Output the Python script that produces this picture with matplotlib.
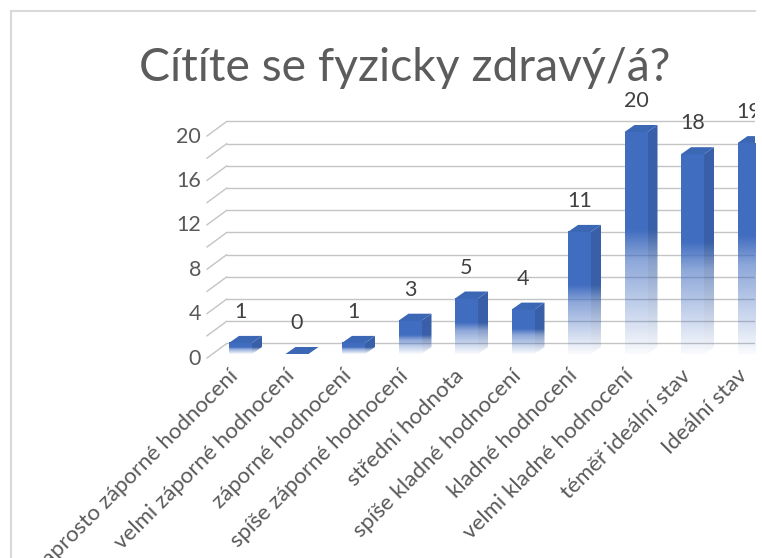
import matplotlib
matplotlib.use("Agg")
import matplotlib.pyplot as plt
import numpy as np
from matplotlib.patches import Polygon

plt.rcParams['font.family'] = ['Lato', 'DejaVu Sans']

categories = ["naprosto záporné hodnocení", "velmi záporné hodnocení", "záporné hodnocení",
              "spíše záporné hodnocení", "střední hodnota", "spíše kladné hodnocení",
              "kladné hodnocení", "velmi kladné hodnocení", "téměř ideální stav", "Ideální stav"]
values = [1, 0, 1, 3, 5, 4, 11, 20, 18, 19]
grid_values = list(range(0, 21, 2))
tick_values = [0, 4, 8, 12, 16, 20]
title = "Cítíte se fyzicky zdravý/á?"

# pixel scale of the picture: one category and one unit
px_x = 56.5
px_y = 11.1
bar_w = 23 / px_x
depth_x = 10 / px_x
depth_y = 7 / px_y

front_col = (0.255, 0.431, 0.753)
side_col = (0.220, 0.373, 0.655)
top_col = (0.231, 0.404, 0.710)


def fade_image(top_value, bar_value, col):
    # solid above the middle of the bar, fading to white below it
    ys = np.linspace(top_value, 0, 200)
    frac = ys / bar_value
    alpha = np.interp(frac, [0, 0.42, 0.56, 1], [0.03, 0.6, 1, 1])
    img = np.ones((200, 1, 4))
    img[:, 0, 0] = col[0]
    img[:, 0, 1] = col[1]
    img[:, 0, 2] = col[2]
    img[:, 0, 3] = alpha
    return img


fig = plt.figure(figsize=(7.62, 5.58), dpi=100)
ax = fig.add_axes([11 / 762, 0, 744 / 762, 547 / 558])
xlim = ((11 - 240.5) / px_x, (755 - 240.5) / px_x)
ylim = ((354 - 558) / px_y, (354 - 11) / px_y)

for spine in ['right', 'bottom']:
    ax.spines[spine].set_visible(False)
for spine in ['left', 'top']:
    ax.spines[spine].set_color('#d9d9d9')
    ax.spines[spine].set_linewidth(1.5)
ax.set_xticks([])
ax.set_yticks([])

# back wall and the slanted floor lines
for v in grid_values:
    back_y = v + 0.946
    front_y = v - 0.36
    back_x = (226.7 - 240.5) / px_x
    front_x = (207 - 240.5) / px_x
    ax.plot([back_x, xlim[1]], [back_y, back_y], color='#c4c4c4', lw=1.0, zorder=1)
    ax.plot([front_x, back_x], [front_y, back_y], color='#c4c4c4', lw=1.0, zorder=1)

for v in tick_values:
    ax.text((201 - 240.5) / px_x, v - 0.42, str(v), ha='right', va='center',
            fontsize=15.5, color='#595959')

for i, v in enumerate(values):
    left = i - bar_w / 2
    right = i + bar_w / 2
    if v > 0:
        im = ax.imshow(fade_image(v, v, front_col), extent=(left, right, 0, v),
                       aspect='auto', zorder=3, interpolation='bilinear')
        side = Polygon([(right, 0), (right + depth_x, depth_y), (right + depth_x, v + depth_y),
                        (right, v)], closed=True, transform=ax.transData)
        im2 = ax.imshow(fade_image(v + depth_y, v, side_col),
                        extent=(right, right + depth_x, 0, v + depth_y),
                        aspect='auto', zorder=3, interpolation='bilinear')
        im2.set_clip_path(side)
    top = Polygon([(left, v), (right, v), (right + depth_x, v + depth_y), (left + depth_x, v + depth_y)],
                  closed=True, facecolor=top_col, edgecolor='none', zorder=4)
    ax.add_patch(top)
    ax.text(i, v + 2.78, str(v), ha='center', va='center', fontsize=15.5,
            color='#404040', zorder=5, clip_on=True)
    ax.text(i - 0.22, -1.05, categories[i], rotation=45, rotation_mode='anchor', ha='right', va='top',
            fontsize=16, color='#595959', clip_on=True)

ax.set_xlim(xlim)
ax.set_ylim(ylim)

ax.text((404.5 - 240.5) / px_x, (354 - 68) / px_y, title, ha='center', va='center',
        fontsize=33.3, color='#5c5c5c')

fig.savefig('out.png', dpi=100)
